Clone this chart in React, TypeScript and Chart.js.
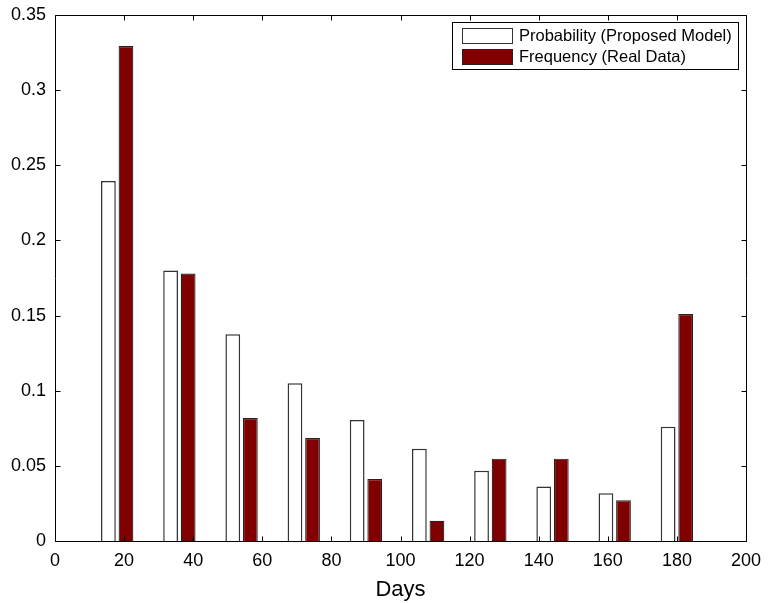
import React, { useEffect, useRef } from "react";
import { Chart, registerables } from "chart.js";

Chart.register(...registerables);

const binCenters = [18, 36, 54, 72, 90, 108, 126, 144, 162, 180];
const probabilityValues = [0.2395, 0.18, 0.1375, 0.105, 0.0805, 0.0613, 0.0468, 0.0362, 0.0318, 0.076];
const frequencyValues = [0.3293, 0.178, 0.0818, 0.0685, 0.0413, 0.0135, 0.0548, 0.0548, 0.0271, 0.151];
const seriesLabels = ["Probability (Proposed Model)", "Frequency (Real Data)"];
const xAxisTitle = "Days";

const FONT = "'Liberation Sans', Arial, Helvetica, sans-serif";

const boxPlugin = {
  id: "matlabBox",
  afterDraw(chart: any) {
    const { ctx, chartArea: a, scales } = chart;
    const x = scales.x;
    const y = scales.y;
    ctx.save();
    ctx.strokeStyle = "#000";
    ctx.lineWidth = 1;
    ctx.beginPath();
    const L = Math.round(a.left) + 0.5;
    const R = Math.round(a.right) + 0.5;
    const T = Math.round(a.top) + 0.5;
    const B = Math.round(a.bottom) + 0.5;
    ctx.rect(L, T, R - L, B - T);
    const tl = 5;
    x.ticks.forEach((t: any) => {
      const px = Math.round(x.getPixelForValue(t.value)) + 0.5;
      ctx.moveTo(px, B);
      ctx.lineTo(px, B - tl);
      ctx.moveTo(px, T);
      ctx.lineTo(px, T + tl);
    });
    y.ticks.forEach((t: any) => {
      const py = Math.round(y.getPixelForValue(t.value)) + 0.5;
      ctx.moveTo(L, py);
      ctx.lineTo(L + tl, py);
      ctx.moveTo(R, py);
      ctx.lineTo(R - tl, py);
    });
    ctx.stroke();

    // legend
    const lx = 452.5, ly = 22.5, lw = 286, lh = 47;
    ctx.fillStyle = "#fff";
    ctx.fillRect(lx, ly, lw, lh);
    ctx.strokeRect(lx, ly, lw, lh);
    ctx.font = `16.5px ${FONT}`;
    ctx.textBaseline = "middle";
    ctx.textAlign = "left";
    chart.data.datasets.forEach((ds: any, i: number) => {
      const sy = 28.5 + i * 21;
      ctx.fillStyle = ds.backgroundColor;
      ctx.fillRect(462.5, sy, 50, 15);
      ctx.strokeStyle = ds.borderColor;
      ctx.lineWidth = 1;
      ctx.strokeRect(462.5, sy, 50, 15);
      ctx.fillStyle = "#000";
      ctx.fillText(ds.label, 519, sy + 8);
    });
    ctx.restore();
  },
};

export default function App() {
  const ref = useRef<HTMLCanvasElement | null>(null);
  useEffect(() => {
    document.body.style.margin = "0";
    const chart = new Chart(ref.current!, {
      type: "bar",
      data: {
        labels: binCenters,
        datasets: [
          {
            label: seriesLabels[0],
            data: binCenters.map((c, i) => ({ x: c, y: probabilityValues[i] })),
            backgroundColor: "#ffffff",
            borderColor: "#333333",
            borderWidth: 1.5,
            categoryPercentage: 0.565,
            barPercentage: 0.84,
          },
          {
            label: seriesLabels[1],
            data: binCenters.map((c, i) => ({ x: c, y: frequencyValues[i] })),
            backgroundColor: "#800000",
            borderColor: "#222222",
            borderWidth: 1.2,
            categoryPercentage: 0.565,
            barPercentage: 0.84,
          },
        ],
      },
      options: {
        animation: false,
        responsive: false,
        layout: { padding: { top: 15, right: 22, left: 0, bottom: 0 } },
        plugins: { legend: { display: false }, tooltip: { enabled: false } },
        scales: {
          x: {
            type: "linear",
            min: 0,
            max: 200,
            offset: false,
            grid: { display: false, drawTicks: false },
            border: { display: false },
            ticks: {
              stepSize: 20,
              color: "#000",
              font: { family: FONT, size: 18 },
              padding: 9,
              maxRotation: 0,
            },
            title: {
              display: true,
              text: xAxisTitle,
              color: "#000",
              font: { family: FONT, size: 22 },
              padding: { top: 0, bottom: 0 },
            },
            afterFit: (s: any) => {
              s.height = 62;
              s.paddingLeft = 0;
              s.paddingRight = 0;
            },
          },
          y: {
            min: 0,
            max: 0.35,
            grid: { display: false, drawTicks: false },
            border: { display: false },
            ticks: {
              stepSize: 0.05,
              color: "#000",
              font: { family: FONT, size: 18 },
              padding: 9,
              callback: (v: any) => String(Number(Number(v).toFixed(2))),
            },
            afterFit: (s: any) => {
              s.width = 55;
              s.paddingTop = 0;
              s.paddingBottom = 0;
            },
          },
        },
      },
      plugins: [boxPlugin],
    } as any);
    return () => chart.destroy();
  }, []);
  return (
    <div style={{ position: "fixed", left: 0, top: 0, width: 768, height: 603, background: "#fff" }}>
      <canvas ref={ref} width={768} height={603} />
    </div>
  );
}
